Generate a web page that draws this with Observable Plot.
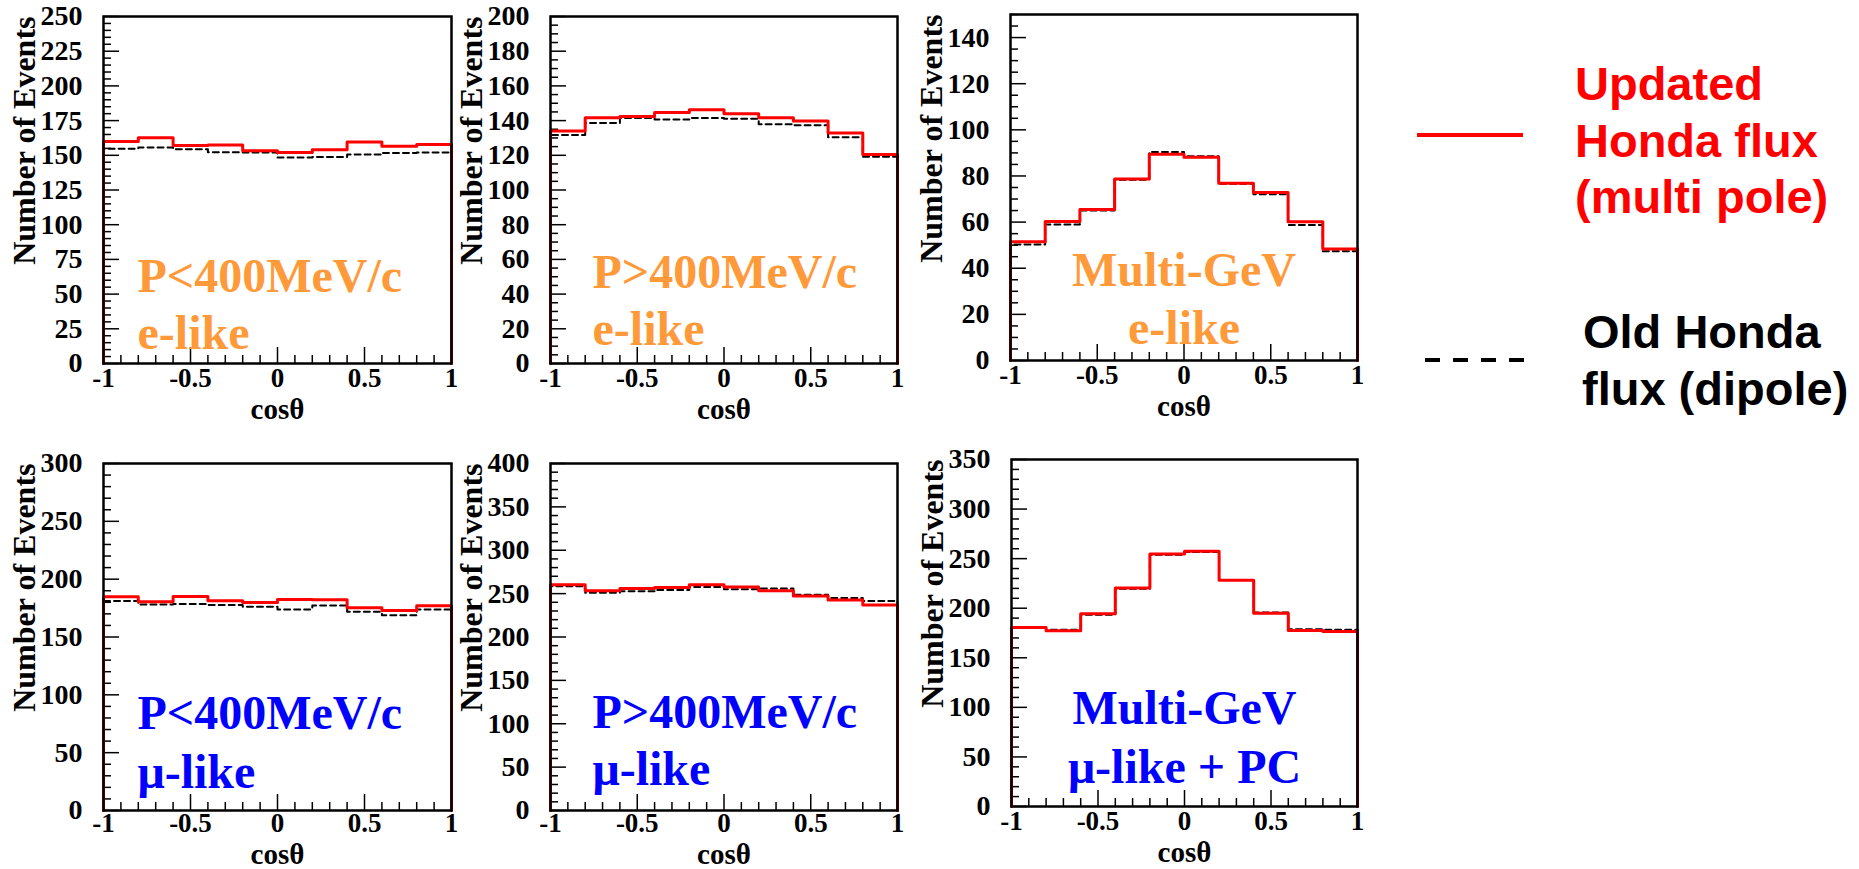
<!DOCTYPE html>
<html>
<head>
<meta charset="utf-8">
<script src="https://cdn.jsdelivr.net/npm/d3@7"></script>
<script src="https://cdn.jsdelivr.net/npm/@observablehq/plot@0.6"></script>
<style>
  html, body { margin: 0; padding: 0; background: #fff; }
  #root { position: relative; width: 1859px; height: 869px; overflow: hidden; background: #fff; }
  .panel { position: absolute; }
  .panel svg { overflow: visible; }
</style>
</head>
<body>
<div id="root"></div>
<script>
// ---- data ----
const cosEdges = [-1, -0.8, -0.6, -0.4, -0.2, 0, 0.2, 0.4, 0.6, 0.8, 1];
const xMajorTicks = [-1, -0.5, 0, 0.5, 1];

// Sub-GeV e-like P<400MeV/c
const eLowNew = [160, 162.7, 157, 157.5, 153.2, 152, 154, 159.6, 156.5, 157.7];
const eLowOld = [154.8, 155.6, 154.4, 152.2, 152, 148.4, 148.8, 150.5, 151.7, 152];
// Sub-GeV e-like P>400MeV/c
const eHighNew = [134, 141.7, 142.3, 144.6, 146.3, 144, 141.7, 139.8, 132.9, 120.4];
const eHighOld = [131.7, 138.6, 141.5, 140.6, 141.5, 141.1, 137.9, 137.3, 130.4, 119.1];
// Multi-GeV e-like
const eMultiNew = [51.5, 60.3, 65.5, 78.7, 89.4, 88.1, 76.8, 72.8, 60.1, 48.3];
const eMultiOld = [50.3, 59, 65, 78.4, 90.4, 88.5, 76.6, 72.1, 58.7, 47.4];
// Sub-GeV mu-like P<400MeV/c
const muLowNew = [184.8, 180.5, 185.1, 181.4, 179.8, 182.5, 182.1, 175.2, 172.9, 177.1];
const muLowOld = [181.1, 178, 178.6, 177.7, 176.2, 173.8, 177.3, 171.8, 168.8, 173.8];
// Sub-GeV mu-like P>400MeV/c
const muHighNew = [260.3, 253.4, 256, 257.2, 260.3, 257.6, 253.4, 247.2, 242.6, 236.9];
const muHighOld = [258.4, 251, 252.6, 254.1, 257.6, 254.9, 256, 248.8, 244.9, 241.5];
// Multi-GeV mu-like + PC
const muMultiNew = [180.6, 177.2, 194.4, 220.3, 254.7, 257.4, 228.1, 195, 177.5, 176.5];
const muMultiOld = [180.2, 178.2, 193.4, 219.6, 254, 256.7, 228.4, 195.7, 178.9, 178.2];

const panelTitles = [
  ["P<400MeV/c", "e-like"],
  ["P>400MeV/c", "e-like"],
  ["Multi-GeV", "e-like"],
  ["P<400MeV/c", "\u03BC-like"],
  ["P>400MeV/c", "\u03BC-like"],
  ["Multi-GeV", "\u03BC-like + PC"]
];
const yMaxes = [250, 200, 150, 300, 400, 350];
const yMajorSteps = [25, 20, 20, 50, 50, 50];
const yMinorSteps = [5, 5, 5, 10, 10, 10];
const legendLabels = [["Updated", "Honda flux", "(multi pole)"], ["Old Honda", "flux (dipole)"]];

// ---- layout (frame positions in page pixels) ----
const ORANGE = "#ff9a3a", BLUE = "#0000ff", RED = "#ff0000";
const SERIF = "'Liberation Serif', 'Times New Roman', Times, serif";
const SANS = "'Liberation Sans', Arial, Helvetica, sans-serif";

const panels = [
  {newV: eLowNew, oldV: eLowOld, color: ORANGE, left: 0, top: 0, H: 430, fx: 103, fy: 16, fw: 348, fh: 347, center: false, tdx: 34, tdy: [275, 332], cosDy: 55, tickPad: 4},
  {newV: eHighNew, oldV: eHighOld, color: ORANGE, left: 447, top: 0, H: 430, fx: 550, fy: 16, fw: 347, fh: 347, center: false, tdx: 42, tdy: [271, 328], cosDy: 55, tickPad: 4},
  {newV: eMultiNew, oldV: eMultiOld, color: ORANGE, left: 907, top: 0, H: 430, fx: 1010, fy: 14, fw: 347, fh: 346, center: true, tdy: [271, 329], cosDy: 55, tickPad: 4},
  {newV: muLowNew, oldV: muLowOld, color: BLUE, left: 0, top: 440, H: 429, fx: 103, fy: 463, fw: 348, fh: 347, center: false, tdx: 34, tdy: [265, 324], cosDy: 53, tickPad: 2},
  {newV: muHighNew, oldV: muHighOld, color: BLUE, left: 447, top: 440, H: 429, fx: 550, fy: 463, fw: 347, fh: 347, center: false, tdx: 42, tdy: [264, 321], cosDy: 53, tickPad: 2},
  {newV: muMultiNew, oldV: muMultiOld, color: BLUE, left: 908, top: 440, H: 429, fx: 1011, fy: 459, fw: 346, fh: 347, center: true, tdy: [264, 323], cosDy: 55, tickPad: 4}
];

function stepPoints(vals) {
  const pts = [{x: cosEdges[0], y: 0}];
  cosEdges.forEach((x, i) => pts.push({x, y: vals[Math.min(i, vals.length - 1)]}));
  pts.push({x: cosEdges[cosEdges.length - 1], y: 0});
  return pts;
}

const root = document.getElementById("root");

panels.forEach((p, k) => {
  const W = 460;
  const marginLeft = p.fx - p.left;
  const marginTop = p.fy - p.top;
  const marginRight = W - marginLeft - p.fw;
  const marginBottom = p.H - marginTop - p.fh;
  const yMax = yMaxes[k], major = yMajorSteps[k], minor = yMinorSteps[k];
  const nMinor = Math.round(yMax / minor);
  const yMinorTicks = d3.range(0, nMinor + 1).map(i => i * minor).filter(v => v % major !== 0);
  const yMajorTicks = d3.range(0, Math.floor(yMax / major) + 1).map(i => i * major);
  const xMinorTicks = d3.range(-10, 11).filter(i => i % 5 !== 0).map(i => i / 10);
  const [t1, t2] = panelTitles[k];
  const titleOpts = p.center
    ? {frameAnchor: "top", textAnchor: "middle"}
    : {frameAnchor: "top-left", textAnchor: "start", dx: p.tdx};

  const chart = Plot.plot({
    width: W,
    height: p.H,
    marginLeft, marginRight, marginTop, marginBottom,
    x: {domain: [-1, 1]},
    y: {domain: [0, yMax]},
    style: {background: "transparent", fontFamily: SERIF, color: "black", overflow: "visible"},
    marks: [
      Plot.tickY(yMinorTicks, {y: d => d, insetRight: p.fw - 8, stroke: "black", strokeWidth: 1.5}),
      Plot.tickY(yMajorTicks, {y: d => d, insetRight: p.fw - 16, stroke: "black", strokeWidth: 1.5}),
      Plot.tickX(xMinorTicks, {x: d => d, insetTop: p.fh - 8, stroke: "black", strokeWidth: 1.5}),
      Plot.tickX(xMajorTicks, {x: d => d, insetTop: p.fh - 16, stroke: "black", strokeWidth: 1.5}),
      Plot.axisY({ticks: yMajorTicks, tickSize: 0, tickPadding: 21, fontSize: 28, fontWeight: "bold", tickFormat: d => String(d), label: null}),
      Plot.axisX({ticks: xMajorTicks, tickSize: 0, tickPadding: p.tickPad, fontSize: 27, fontWeight: "bold", tickFormat: d => String(d), label: null}),
      Plot.line(stepPoints(p.oldV), {x: "x", y: "y", curve: "step-after", stroke: "black", strokeWidth: 2, strokeDasharray: "6,4"}),
      Plot.line(stepPoints(p.newV), {x: "x", y: "y", curve: "step-after", stroke: RED, strokeWidth: 3}),
      Plot.frame({stroke: "black", strokeWidth: 2.5}),
      Plot.text(["Number of Events"], {text: d => d, frameAnchor: "top-left", rotate: -90, textAnchor: "end", lineAnchor: "bottom", dx: -69, fontSize: 32, fontWeight: "bold", fill: "black"}),
      Plot.text(["cos\u03B8"], {text: d => d, frameAnchor: "bottom", textAnchor: "middle", lineAnchor: "bottom", dy: p.cosDy, fontSize: 29, fontWeight: "bold", fill: "black"}),
      Plot.text([t1], {text: d => d, ...titleOpts, lineAnchor: "bottom", dy: p.tdy[0], fontSize: 48, fontWeight: "bold", fill: p.color}),
      Plot.text([t2], {text: d => d, ...titleOpts, lineAnchor: "bottom", dy: p.tdy[1], fontSize: 48, fontWeight: "bold", fill: p.color})
    ]
  });
  const wrap = document.createElement("div");
  wrap.className = "panel";
  wrap.style.left = p.left + "px";
  wrap.style.top = p.top + "px";
  wrap.appendChild(chart);
  root.appendChild(wrap);
});

// ---- legend ----
const NS = "http://www.w3.org/2000/svg";
const leg = document.createElementNS(NS, "svg");
leg.setAttribute("width", 479);
leg.setAttribute("height", 440);
leg.style.position = "absolute";
leg.style.left = "1380px";
leg.style.top = "0px";
function el(tag, attrs, txt) {
  const e = document.createElementNS(NS, tag);
  for (const k in attrs) e.setAttribute(k, attrs[k]);
  if (txt) e.textContent = txt;
  leg.appendChild(e);
  return e;
}
el("line", {x1: 37, x2: 143, y1: 135, y2: 135, stroke: RED, "stroke-width": 4});
el("line", {x1: 45, x2: 145, y1: 360, y2: 360, stroke: "black", "stroke-width": 4, "stroke-dasharray": "15,13"});
legendLabels[0].forEach((t, i) => el("text", {x: 195, y: 100 + i * 56.5, fill: RED, "font-family": SANS, "font-weight": "bold", "font-size": 47}, t));
legendLabels[1].forEach((t, i) => el("text", {x: 203 - i, y: 348 + i * 57, fill: "black", "font-family": SANS, "font-weight": "bold", "font-size": 47}, t));
root.appendChild(leg);
</script>
</body>
</html>
